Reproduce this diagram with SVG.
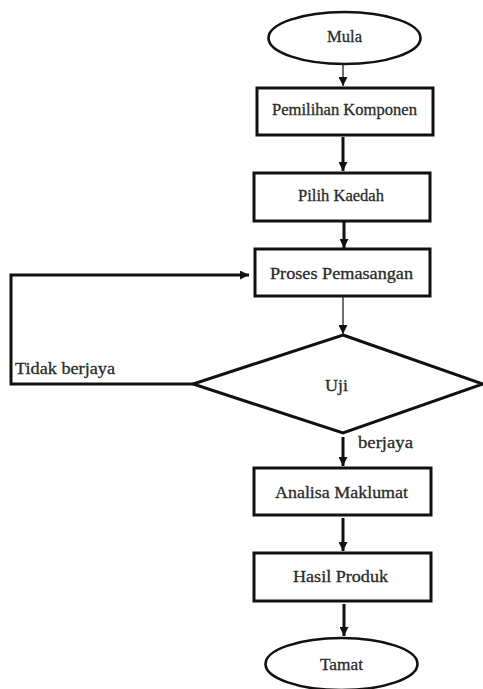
<svg xmlns="http://www.w3.org/2000/svg" width="483" height="689" viewBox="0 0 483 689">
<style>
.shape{fill:#fff;stroke:#111;stroke-width:3}
.oval{fill:#fff;stroke:#111;stroke-width:2.6}
.lbl{font-family:'Liberation Serif','Times New Roman','DejaVu Serif',serif;font-size:17px;fill:#2a2a2a;stroke:#2a2a2a;stroke-width:0.3}
.c{text-anchor:middle}
.thick{fill:none;stroke:#111;stroke-width:3}
.thin{fill:none;stroke:#222;stroke-width:1.3}
</style>
<defs>
<marker id="ah" markerUnits="userSpaceOnUse" markerWidth="9" markerHeight="9" refX="9" refY="4.5" orient="auto">
<path d="M0,0 L9,4.5 L0,9 z" fill="#111"/>
</marker>
</defs>
<rect width="483" height="689" fill="#fff"/>
<g id="connectors">
<line class="thin" x1="343" y1="64" x2="343" y2="86" marker-end="url(#ah)"/>
<line class="thick" x1="343" y1="137" x2="343" y2="171" marker-end="url(#ah)"/>
<line class="thick" x1="344" y1="222" x2="344" y2="248" marker-end="url(#ah)"/>
<line class="thin" x1="343" y1="297" x2="343" y2="334" marker-end="url(#ah)"/>
<polyline class="thick" points="193,384 11,384 11,275 249,275" marker-end="url(#ah)"/>
<line class="thick" x1="343" y1="437" x2="343" y2="466" marker-end="url(#ah)"/>
<line class="thick" x1="343" y1="518" x2="343" y2="551" marker-end="url(#ah)"/>
<line class="thick" x1="344" y1="604" x2="344" y2="636" marker-end="url(#ah)"/>
<text class="lbl" x="15" y="374" textLength="100" lengthAdjust="spacingAndGlyphs">Tidak berjaya</text>
<text class="lbl" x="358" y="448" textLength="55" lengthAdjust="spacingAndGlyphs">berjaya</text>
</g>
<g id="mula">
<ellipse class="oval" cx="344.5" cy="38" rx="76" ry="26"/>
<text class="lbl c" x="344.5" y="42" textLength="35" lengthAdjust="spacingAndGlyphs">Mula</text>
</g>
<g id="pemilihan">
<rect class="shape" x="257" y="88" width="176" height="47"/>
<text class="lbl c" x="344.5" y="115" textLength="145" lengthAdjust="spacingAndGlyphs">Pemilihan Komponen</text>
</g>
<g id="pilih">
<rect class="shape" x="254" y="173" width="176" height="48"/>
<text class="lbl c" x="341" y="201" textLength="86" lengthAdjust="spacingAndGlyphs">Pilih Kaedah</text>
</g>
<g id="proses">
<rect class="shape" x="255" y="249" width="175" height="47"/>
<text class="lbl c" x="341.5" y="279" textLength="143" lengthAdjust="spacingAndGlyphs">Proses Pemasangan</text>
</g>
<g id="uji">
<polygon class="shape" points="343,335 483,384 343,433 193,384"/>
<text class="lbl c" x="336.5" y="391" textLength="23" lengthAdjust="spacingAndGlyphs">Uji</text>
</g>
<g id="analisa">
<rect class="shape" x="254" y="468" width="177" height="47"/>
<text class="lbl c" x="341.5" y="498" textLength="133" lengthAdjust="spacingAndGlyphs">Analisa Maklumat</text>
</g>
<g id="hasil">
<rect class="shape" x="254" y="553" width="177" height="48"/>
<text class="lbl c" x="340.5" y="582" textLength="95" lengthAdjust="spacingAndGlyphs">Hasil Produk</text>
</g>
<g id="tamat">
<ellipse class="oval" cx="341.5" cy="664" rx="76" ry="26"/>
<text class="lbl c" x="341.5" y="670" textLength="43" lengthAdjust="spacingAndGlyphs">Tamat</text>
</g>
</svg>
